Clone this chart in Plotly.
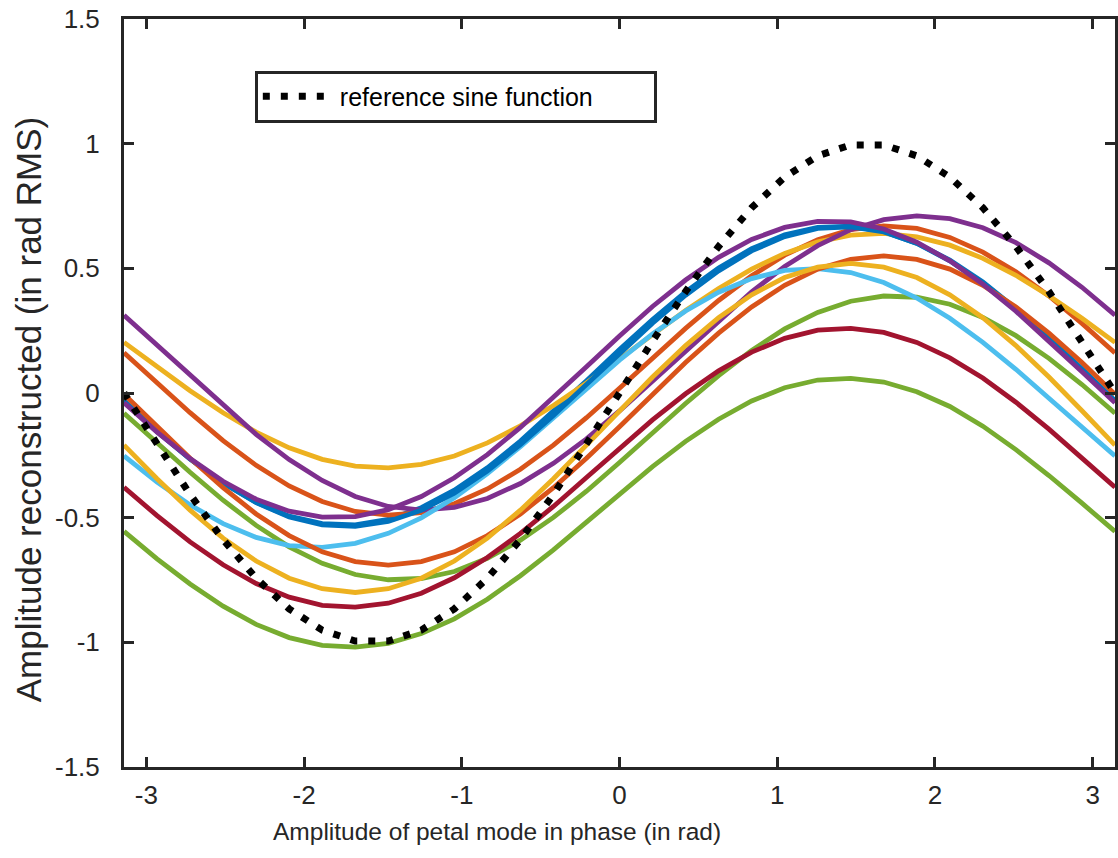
import plotly.graph_objects as go

# sample positions (rad), -pi .. pi in 31 steps
x_rad = [-3.1416, -2.9322, -2.7227, -2.5133, -2.3038, -2.0944, -1.8850, -1.6755,
         -1.4661, -1.2566, -1.0472, -0.8378, -0.6283, -0.4189, -0.2094, 0.0,
         0.2094, 0.4189, 0.6283, 0.8378, 1.0472, 1.2566, 1.4661, 1.6755,
         1.8850, 2.0944, 2.3038, 2.5133, 2.7227, 2.9322, 3.1416]

ref_sine = [0.0, -0.208, -0.407, -0.588, -0.743, -0.866, -0.951, -0.995, -0.995, -0.951,
            -0.866, -0.743, -0.588, -0.407, -0.208, 0.0, 0.208, 0.407, 0.588, 0.743,
            0.866, 0.951, 0.995, 0.995, 0.951, 0.866, 0.743, 0.588, 0.407, 0.208, 0.0]

blue_1 = [-0.034, -0.155, -0.265, -0.361, -0.439, -0.494, -0.524, -0.529, -0.507, -0.460,
          -0.390, -0.300, -0.193, -0.075, 0.049, 0.174, 0.295, 0.405, 0.501, 0.579,
          0.634, 0.664, 0.669, 0.647, 0.600, 0.530, 0.440, 0.333, 0.215, 0.091, -0.034]
orange_1 = [0.161, 0.040, -0.079, -0.191, -0.290, -0.373, -0.435, -0.475, -0.490, -0.480,
            -0.444, -0.385, -0.306, -0.209, -0.099, 0.019, 0.140, 0.259, 0.371, 0.470,
            0.553, 0.615, 0.655, 0.670, 0.660, 0.624, 0.565, 0.486, 0.389, 0.279, 0.161]
yellow_1 = [0.203, 0.105, 0.009, -0.079, -0.157, -0.220, -0.266, -0.293, -0.300, -0.286,
            -0.253, -0.200, -0.132, -0.050, 0.040, 0.137, 0.235, 0.331, 0.419, 0.497,
            0.560, 0.606, 0.633, 0.640, 0.626, 0.593, 0.540, 0.472, 0.390, 0.300, 0.203]
purple_1 = [0.312, 0.192, 0.069, -0.052, -0.166, -0.267, -0.351, -0.415, -0.455, -0.470,
            -0.459, -0.423, -0.363, -0.282, -0.184, -0.072, 0.048, 0.171, 0.292, 0.406,
            0.507, 0.591, 0.655, 0.695, 0.710, 0.699, 0.663, 0.603, 0.522, 0.424, 0.312]
green_1 = [-0.081, -0.200, -0.318, -0.430, -0.531, -0.617, -0.683, -0.728, -0.749, -0.744,
           -0.716, -0.663, -0.590, -0.499, -0.394, -0.279, -0.160, -0.042, 0.070, 0.171,
           0.257, 0.323, 0.368, 0.389, 0.384, 0.356, 0.303, 0.230, 0.139, 0.034, -0.081]
lightblue_1 = [-0.252, -0.357, -0.449, -0.524, -0.579, -0.612, -0.619, -0.603, -0.563, -0.501,
               -0.420, -0.323, -0.215, -0.099, 0.018, 0.132, 0.237, 0.329, 0.404, 0.459,
               0.492, 0.499, 0.483, 0.443, 0.381, 0.300, 0.203, 0.095, -0.021, -0.138, -0.252]
darkred_1 = [-0.378, -0.492, -0.597, -0.689, -0.764, -0.819, -0.852, -0.859, -0.843, -0.803,
             -0.741, -0.660, -0.563, -0.455, -0.339, -0.222, -0.108, -0.003, 0.089, 0.164,
             0.219, 0.252, 0.259, 0.243, 0.203, 0.141, 0.060, -0.037, -0.145, -0.261, -0.378]
blue_2 = [-0.030, -0.152, -0.264, -0.361, -0.440, -0.497, -0.529, -0.535, -0.515, -0.470,
          -0.402, -0.313, -0.207, -0.090, 0.034, 0.158, 0.280, 0.392, 0.490, 0.570,
          0.627, 0.660, 0.666, 0.646, 0.601, 0.533, 0.445, 0.339, 0.222, 0.097, -0.030]
orange_2 = [-0.005, -0.135, -0.262, -0.380, -0.485, -0.572, -0.637, -0.676, -0.690, -0.676,
            -0.637, -0.572, -0.485, -0.380, -0.262, -0.135, -0.005, 0.122, 0.240, 0.345,
            0.432, 0.497, 0.536, 0.550, 0.536, 0.497, 0.432, 0.345, 0.240, 0.122, -0.005]
yellow_2 = [-0.209, -0.344, -0.470, -0.582, -0.674, -0.743, -0.785, -0.800, -0.785, -0.743,
            -0.674, -0.582, -0.470, -0.344, -0.209, -0.071, 0.064, 0.190, 0.302, 0.394,
            0.463, 0.505, 0.520, 0.505, 0.463, 0.394, 0.302, 0.190, 0.064, -0.071, -0.209]
purple_2 = [-0.039, -0.157, -0.263, -0.354, -0.426, -0.474, -0.498, -0.496, -0.468, -0.415,
            -0.340, -0.247, -0.138, -0.019, 0.105, 0.229, 0.347, 0.453, 0.544, 0.616,
            0.664, 0.688, 0.686, 0.658, 0.605, 0.530, 0.437, 0.328, 0.209, 0.085, -0.039]
green_2 = [-0.555, -0.665, -0.766, -0.855, -0.928, -0.981, -1.012, -1.019, -1.004, -0.965,
           -0.906, -0.827, -0.733, -0.629, -0.518, -0.405, -0.295, -0.194, -0.105, -0.032,
           0.021, 0.052, 0.059, 0.044, 0.005, -0.054, -0.133, -0.227, -0.331, -0.442, -0.555]

series = [blue_1, orange_1, yellow_1, purple_1, green_1, lightblue_1, darkred_1,
          blue_2, orange_2, yellow_2, purple_2, green_2]
colors = ["#0072BD", "#D95319", "#EDB120", "#7E2F8E", "#77AC30", "#4DBEEE", "#A2142F",
          "#0072BD", "#D95319", "#EDB120", "#7E2F8E", "#77AC30"]

x_ticks = [-3, -2, -1, 0, 1, 2, 3]
x_tick_text = ["-3", "-2", "-1", "0", "1", "2", "3"]
y_ticks = [-1.5, -1, -0.5, 0, 0.5, 1, 1.5]
y_tick_text = ["-1.5", "-1", "-0.5", "0", "0.5", "1", "1.5"]

FONT = "Liberation Sans, Arial, Helvetica, sans-serif"
AX = "#262626"

fig = go.Figure()
for ys, c in zip(series, colors):
    fig.add_trace(go.Scatter(x=x_rad, y=ys, mode="lines", showlegend=False,
                             line=dict(color=c, width=4.8)))
fig.add_trace(go.Scatter(x=x_rad, y=ref_sine, mode="lines",
                         name="reference sine function" + "\u00a0" * 8,
                         line=dict(color="black", width=7, dash="7px,11px")))

fig.update_layout(
    width=1118, height=858,
    margin=dict(l=124, r=0, t=19, b=91),
    paper_bgcolor="white", plot_bgcolor="white",
    font=dict(family=FONT, color=AX),
    showlegend=True,
    legend=dict(x=0.132, y=0.931, xanchor="left", yanchor="top",
                bordercolor=AX, borderwidth=3, bgcolor="white",
                font=dict(size=25, color="black"), itemwidth=72),
    annotations=[
        dict(text="Amplitude of petal mode in phase (in rad)", xref="paper", yref="paper",
             x=0.376, y=-0.086, xanchor="center", yanchor="middle", showarrow=False,
             font=dict(size=24.5, color=AX)),
        dict(text="Amplitude reconstructed (in rad RMS)", xref="paper", yref="paper",
             x=-0.0966, y=0.4786, xanchor="center", yanchor="middle", showarrow=False,
             textangle=-90, font=dict(size=35, color=AX)),
    ],
)
fig.update_xaxes(range=[-3.1416, 3.1416], tickmode="array", tickvals=x_ticks,
                 ticktext=x_tick_text,
                 ticks="inside", ticklen=10, tickwidth=3, tickcolor=AX,
                 showline=True, linewidth=3, linecolor=AX, mirror="ticks",
                 showgrid=False, zeroline=False, tickfont=dict(size=26, color=AX),
                 ticklabelstandoff=3)
fig.update_yaxes(range=[-1.5, 1.5], tickmode="array", tickvals=y_ticks, ticktext=y_tick_text,
                 ticks="inside", ticklen=10, tickwidth=3, tickcolor=AX,
                 showline=True, linewidth=3, linecolor=AX, mirror="ticks",
                 showgrid=False, zeroline=False, tickfont=dict(size=26, color=AX),
                 ticklabelstandoff=16)

fig.write_html("out.html")
